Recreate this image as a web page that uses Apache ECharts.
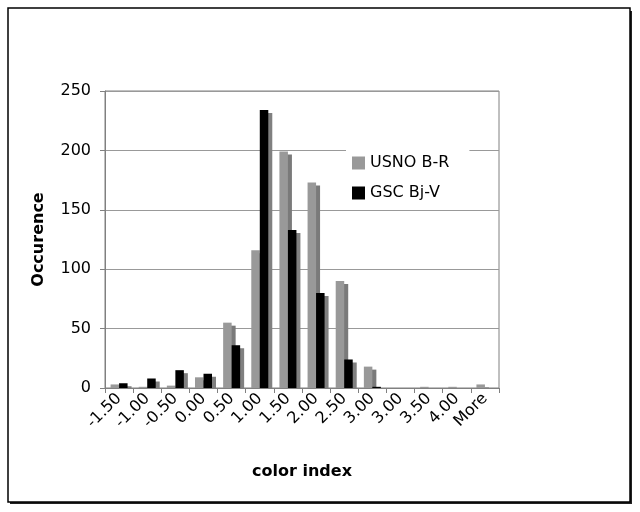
<!DOCTYPE html>
<html><head><meta charset="utf-8">
<script src="https://cdn.jsdelivr.net/npm/echarts@6/dist/echarts.min.js"></script>
<style>html,body{margin:0;padding:0;background:#fff}#c{width:640px;height:512px}</style>
</head><body><div id="c"></div>
<script>
const categories = ['-1.50','-1.00','-0.50','0.00','0.50','1.00','1.50','2.00','2.50','3.00','3.00','3.50','4.00','More'];
const usnoBR = [3, 1, 2, 9, 55, 116, 199, 173, 90, 18, 0, 1, 1, 3];
const gscBjV = [4, 8, 15, 12, 36, 234, 133, 80, 24, 1, 0, 0, 0, 0];
const yTicks = [0, 50, 100, 150, 200, 250];

const FONT = 'DejaVu Sans';
const chart = echarts.init(document.getElementById('c'), null, {renderer: 'canvas'});
chart.setOption({
  animation: false,
  backgroundColor: '#fff',
  textStyle: {fontFamily: FONT},
  grid: {left: 105, right: 141, top: 91, bottom: 124, show: true, borderColor: '#808080', borderWidth: 1, backgroundColor: 'transparent'},
  legend: {
    orient: 'vertical', left: 346, top: 149, width: 123,
    backgroundColor: '#fff', padding: [6, 20, 6, 6],
    icon: 'rect',
    itemWidth: 13, itemHeight: 13, itemGap: 14,
    textStyle: {fontFamily: FONT, fontSize: 16, color: '#000'},
    data: ['USNO B-R', 'GSC Bj-V']
  },
  xAxis: {
    type: 'category', data: categories, z: 5,
    name: 'color index', nameLocation: 'middle', nameGap: 76,
    nameTextStyle: {fontFamily: FONT, fontSize: 16, fontWeight: 'bold', color: '#000'},
    axisLine: {lineStyle: {color: '#808080', width: 1}},
    axisTick: {show: true, length: 5, lineStyle: {color: '#808080'}},
    axisLabel: {rotate: 45, fontFamily: FONT, fontSize: 16, color: '#000', margin: 8, interval: 0}
  },
  yAxis: {
    type: 'value', min: yTicks[0], max: yTicks[yTicks.length - 1], interval: 50,
    name: 'Occurence', nameLocation: 'middle', nameGap: 58,
    nameTextStyle: {fontFamily: FONT, fontSize: 16, fontWeight: 'bold', color: '#000'},
    axisLine: {show: true, lineStyle: {color: '#808080', width: 1}},
    axisTick: {show: true, length: 5, lineStyle: {color: '#808080'}},
    axisLabel: {fontFamily: FONT, fontSize: 16, color: '#000', margin: 14},
    splitLine: {lineStyle: {color: '#999', width: 1}}
  },
  series: [
    {name: 'USNO B-R', type: 'bar', data: usnoBR, barWidth: 8.5, barGap: '0%',
     itemStyle: {color: '#999999', shadowColor: '#7a7a7a', shadowOffsetX: 4, shadowOffsetY: 3, shadowBlur: 0}},
    {name: 'GSC Bj-V', type: 'bar', data: gscBjV, barWidth: 8.5, barGap: '0%',
     itemStyle: {color: '#000000', shadowColor: '#808080', shadowOffsetX: 4, shadowOffsetY: 3, shadowBlur: 0}}
  ],
  graphic: [
    {type: 'rect', z: -10, shape: {x: 10, y: 11, width: 622, height: 493}, style: {fill: '#222', stroke: null}},
    {type: 'rect', z: -9, shape: {x: 8, y: 8, width: 622, height: 494}, style: {fill: '#fff', stroke: '#000', lineWidth: 1.5}},
    {type: 'rect', z: 4, shape: {x: 104, y: 389, width: 400, height: 5}, style: {fill: '#fff', stroke: null}}
  ]
});
</script></body></html>
